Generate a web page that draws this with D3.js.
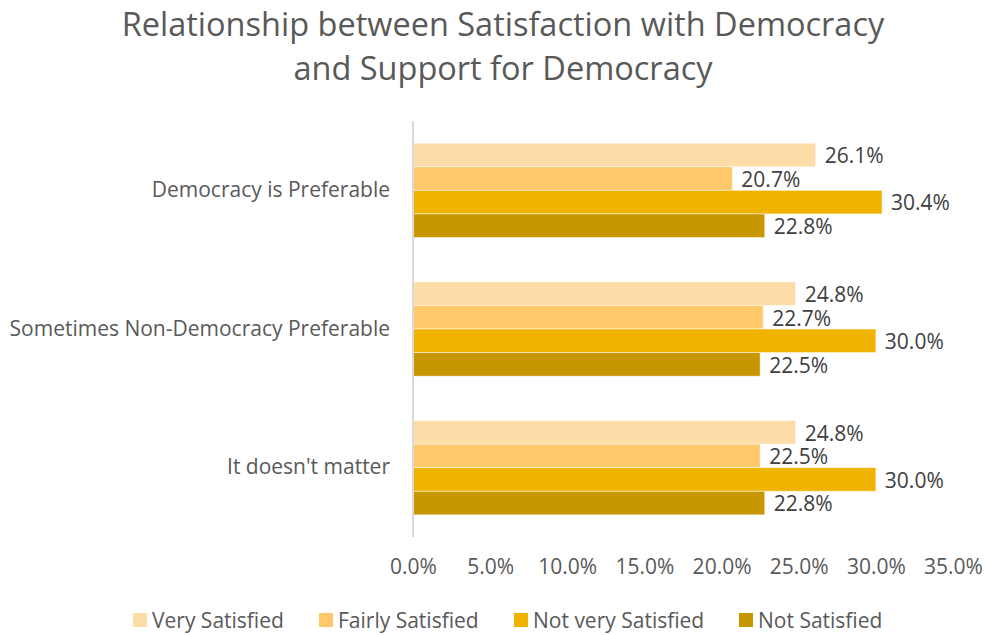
<!DOCTYPE html>
<html>
<head>
<meta charset="utf-8">
<script src="https://cdn.jsdelivr.net/npm/d3@7/dist/d3.min.js"></script>
<style>
  html, body { margin: 0; padding: 0; background: #fff; }
  svg { display: block; }
</style>
</head>
<body>
<svg id="chart" width="985" height="635"></svg>
<script>
// Survey responses: support for democracy by satisfaction level (percent)
const categories = ["Democracy is Preferable", "Sometimes Non-Democracy Preferable", "It doesn't matter"];
const seriesNames = ["Very Satisfied", "Fairly Satisfied", "Not very Satisfied", "Not Satisfied"];
const verySatisfied = [26.1, 24.8, 24.8];
const fairlySatisfied = [20.7, 22.7, 22.5];
const notVerySatisfied = [30.4, 30.0, 30.0];
const notSatisfied = [22.8, 22.5, 22.8];
const xTicks = [0, 5, 10, 15, 20, 25, 30, 35];
const colors = ["#FEDCA8", "#FFC96B", "#F0B400", "#C89600"];

const seriesValues = [verySatisfied, fairlySatisfied, notVerySatisfied, notSatisfied];
const FONT = "'Open Sans', Lato, sans-serif";
const LABEL_SIZE = 21;

const svg = d3.select("#chart");
const plot = { left: 413, right: 953, top: 121, bottom: 537 };

const x = d3.scaleLinear().domain([0, 35]).range([plot.left, plot.right]);
const y0 = d3.scaleBand().domain(categories).range([plot.top, plot.bottom]).paddingInner(0.32).paddingOuter(0.16);
const y1 = d3.scaleBand().domain(seriesNames).range([0, y0.bandwidth()]);

// Title
const title = svg.append("text")
  .attr("x", 503).attr("text-anchor", "middle")
  .attr("font-family", FONT).attr("font-size", 32.5).attr("fill", "#595959");
title.append("tspan").attr("x", 503).attr("y", 36).text("Relationship between Satisfaction with Democracy");
title.append("tspan").attr("x", 503).attr("y", 80).text("and Support for Democracy");

// Bars with value labels
const groups = svg.append("g").selectAll("g")
  .data(categories).join("g")
  .attr("transform", d => `translate(0,${y0(d)})`);

groups.each(function(cat, ci) {
  const g = d3.select(this);
  seriesNames.forEach((s, si) => {
    const v = seriesValues[si][ci];
    g.append("rect")
      .attr("x", x(0))
      .attr("y", y1(s))
      .attr("width", x(v) - x(0))
      .attr("height", y1.bandwidth())
      .attr("fill", colors[si])
      .attr("stroke", "#fff").attr("stroke-opacity", 0.6).attr("stroke-width", 0.8);
    g.append("text")
      .attr("x", x(v) + 9)
      .attr("y", y1(s) + y1.bandwidth() / 2 + 1)
      .attr("dy", "0.35em")
      .attr("font-family", FONT).attr("font-size", LABEL_SIZE).attr("fill", "#404040")
      .text(v.toFixed(1) + "%");
  });
});

// Vertical axis line
svg.append("line")
  .attr("x1", x(0)).attr("x2", x(0))
  .attr("y1", plot.top).attr("y2", plot.bottom)
  .attr("stroke", "#d9d9d9").attr("stroke-width", 2);

// Category labels
const yAxis = d3.axisLeft(y0).tickSize(0).tickPadding(23);
const yg = svg.append("g").attr("transform", `translate(${x(0)},0)`).call(yAxis);
yg.select(".domain").remove();
yg.selectAll("text").attr("font-family", FONT).attr("font-size", LABEL_SIZE).attr("fill", "#595959");

// X axis tick labels
const xAxis = d3.axisBottom(x).tickValues(xTicks).tickSize(0).tickPadding(0)
  .tickFormat(d => d.toFixed(1) + "%");
const xg = svg.append("g").attr("transform", `translate(0,${plot.bottom + 22})`).call(xAxis);
xg.select(".domain").remove();
xg.selectAll("text").attr("font-family", FONT).attr("font-size", LABEL_SIZE).attr("fill", "#595959");

// Legend
const legendX = [133, 319, 514, 739];
const legend = svg.append("g").selectAll("g")
  .data(seriesNames).join("g")
  .attr("transform", (d, i) => `translate(${legendX[i]},620)`);
legend.append("rect")
  .attr("x", 0).attr("y", -7).attr("width", 14).attr("height", 14)
  .attr("fill", (d, i) => colors[i]);
legend.append("text")
  .attr("x", 19).attr("y", 1).attr("dy", "0.35em")
  .attr("font-family", FONT).attr("font-size", LABEL_SIZE).attr("fill", "#595959")
  .text(d => d);
</script>
</body>
</html>
